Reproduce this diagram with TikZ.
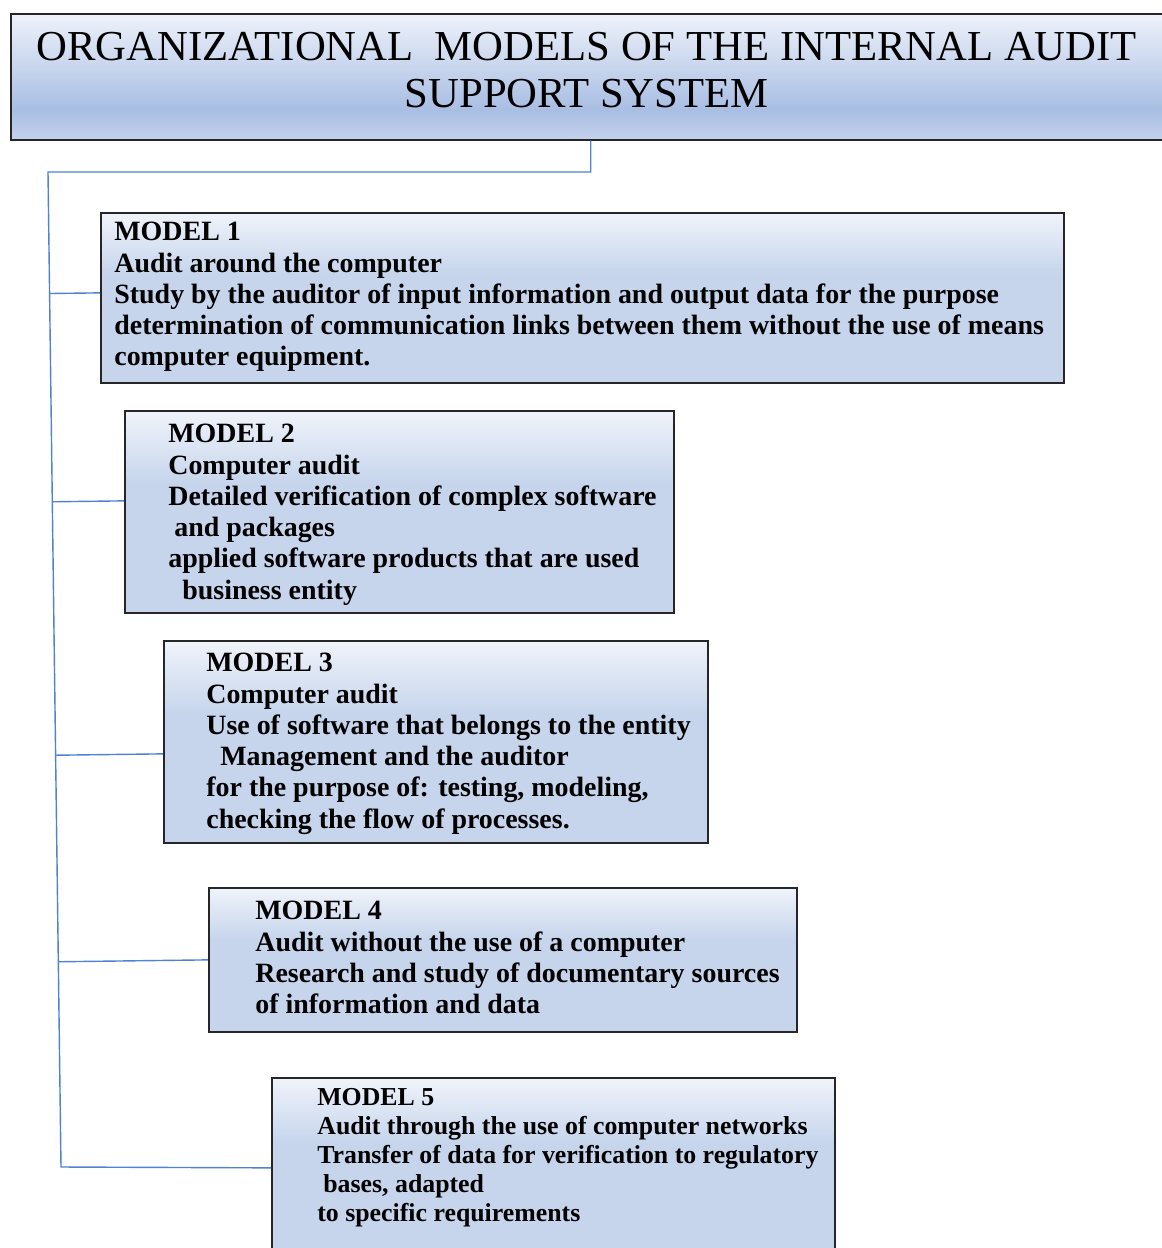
\documentclass[tikz,border=0pt]{standalone}
\usepackage{fontspec}
\setmainfont{Liberation Serif}
\usetikzlibrary{calc}
\definecolor{linkblue}{HTML}{5081D3}
\definecolor{boxtop}{HTML}{F0F3FA}
\definecolor{boxmid}{HTML}{C6D5EC}
\definecolor{titletop}{HTML}{EEF2FA}
\definecolor{titlemid}{HTML}{A9BEE3}
\definecolor{titlebot}{HTML}{C4D2EC}
\pgfdeclareverticalshading{boxshade}{100bp}{color(0bp)=(boxmid); color(57bp)=(boxmid); color(75bp)=(boxtop); color(100bp)=(boxtop)}
\pgfdeclareverticalshading{titleshade}{100bp}{color(0bp)=(titlebot); color(25bp)=(titlebot); color(37bp)=(titlemid); color(75bp)=(titletop); color(100bp)=(titletop)}
\tikzstyle{titlebox} = [rectangle, anchor=north west, minimum width=23.04cm, minimum height=2.52cm, align=center, draw=black!85, line width=1pt, shade, shading=titleshade, font=\fontsize{24.3}{27.3}\selectfont]
\tikzstyle{modelbox} = [rectangle, anchor=north west, draw=black!85, line width=1pt, shade, shading=boxshade]
\tikzstyle{modeltext} = [anchor=north west, inner sep=0pt, align=left, font=\fontsize{15.9}{17.8}\selectfont\bfseries]
\tikzstyle{link} = [draw=linkblue, line width=0.8pt]

\begin{document}
\begin{tikzpicture}[x=0.02cm, y=-0.02cm]
\useasboundingbox (0,0) rectangle (1161,1248);

\node at (10, 13) (title) [titlebox] {ORGANIZATIONAL\ \ MODELS OF THE INTERNAL AUDIT\\ SUPPORT SYSTEM\rule[-0.28cm]{0pt}{0pt}};

\node at (100, 212) (m1) [modelbox, minimum width=19.26cm, minimum height=3.40cm] {};
\node at (124, 410) (m2) [modelbox, minimum width=10.98cm, minimum height=4.04cm] {};
\node at (163, 640) (m3) [modelbox, minimum width=10.88cm, minimum height=4.04cm] {};
\node at (208, 887) (m4) [modelbox, minimum width=11.76cm, minimum height=2.88cm] {};
\node at (271, 1077) (m5) [modelbox, minimum width=11.26cm, minimum height=3.60cm] {};

\node at (114, 222) (m1text) [modeltext] {MODEL 1\\ Audit around the computer\\ Study by the auditor of input information and output data for the purpose\\ determination of communication links between them without the use of means\\ computer equipment.};
\node at (168, 424) (m2text) [modeltext] {MODEL 2\\ Computer audit\\ Detailed verification of complex software\\ \hspace*{0.12cm}and packages\\ applied software products that are used\\ \hspace*{0.28cm}business entity};
\node at (206, 653) (m3text) [modeltext] {MODEL 3\\ Computer audit\\ Use of software that belongs to the entity\\ \hspace*{0.28cm}Management and the auditor\\ for the purpose of: testing, modeling,\\ checking the flow of processes.};
\node at (255, 901) (m4text) [modeltext] {MODEL 4\\ Audit without the use of a computer\\ Research and study of documentary sources\\ of information and data};
\node at (317, 1088) (m5text) [modeltext, font=\fontsize{14.7}{16.5}\selectfont\bfseries] {MODEL 5\\ Audit through the use of computer networks\\ Transfer of data for verification to regulatory\\ \hspace*{0.12cm}bases, adapted\\ to specific requirements};

\coordinate (trunktop) at (48, 172);
\coordinate (trunkbot) at (61, 1167);

\draw [link] ([xshift=0.08cm]title.south) |- (trunktop) -- (trunkbot) -- (m5.west);
\draw [link] ($(trunktop)!([yshift=0.1cm]m1.west)!(trunkbot)$) -- ([yshift=0.1cm]m1.west);
\draw [link] ($(trunktop)!([yshift=0.22cm]m2.west)!(trunkbot)$) -- ([yshift=0.22cm]m2.west);
\draw [link] ($(trunktop)!([yshift=-0.24cm]m3.west)!(trunkbot)$) -- ([yshift=-0.24cm]m3.west);
\draw [link] ($(trunktop)!(m4.west)!(trunkbot)$) -- (m4.west);

\end{tikzpicture}
\end{document}
